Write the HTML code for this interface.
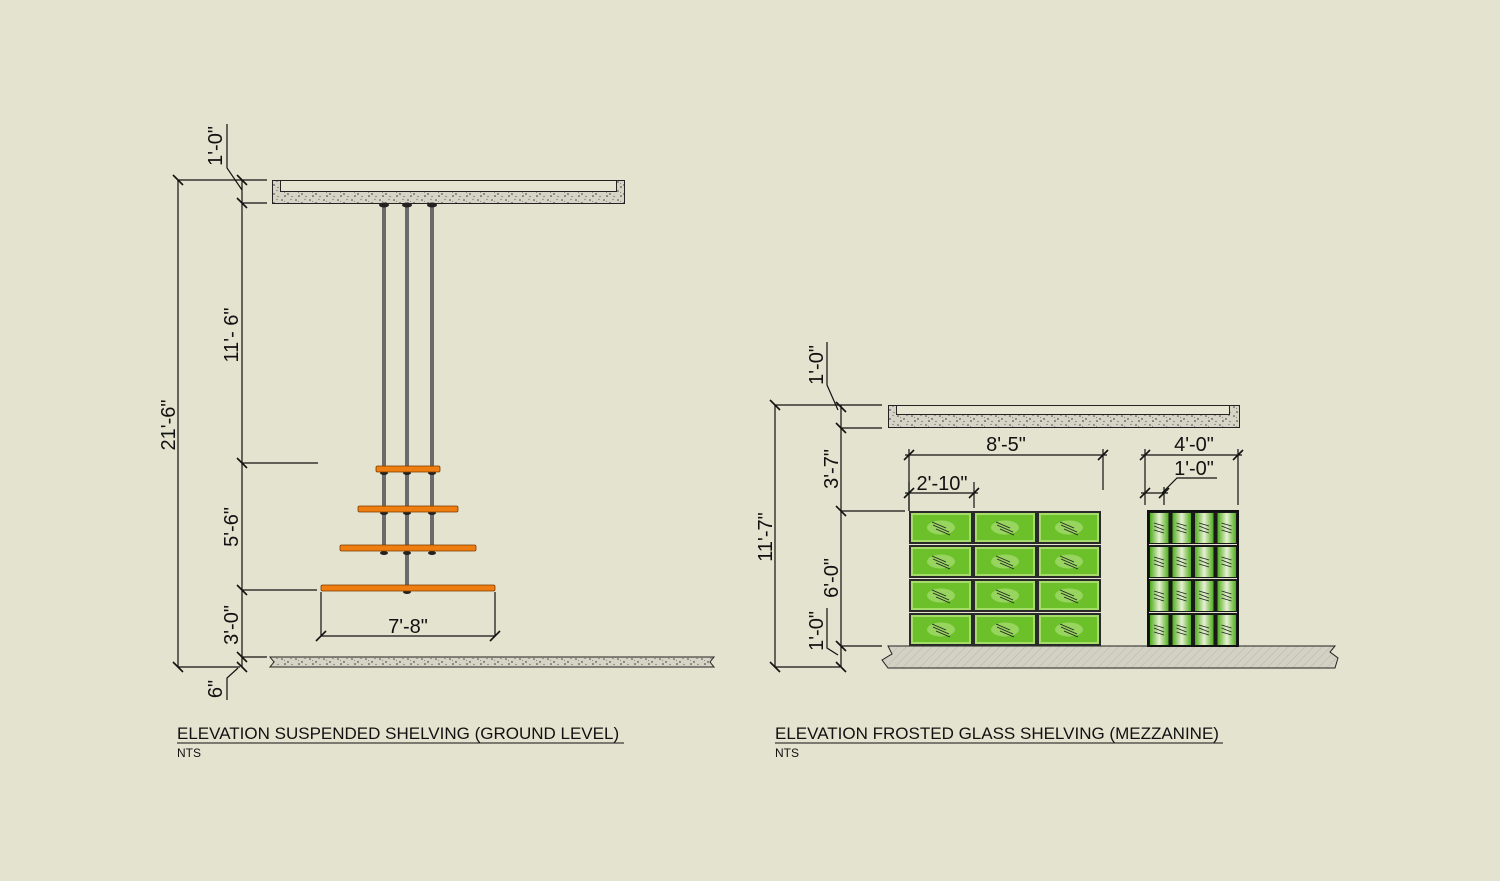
<!DOCTYPE html>
<html><head><meta charset="utf-8"><style>
html,body{margin:0;padding:0;background:#e4e3cf;}
svg{display:block;font-family:"Liberation Sans",sans-serif;}
</style></head><body>
<svg width="1500" height="881" viewBox="0 0 1500 881" xmlns="http://www.w3.org/2000/svg">
<defs>
<pattern id="conc" width="14" height="9" patternUnits="userSpaceOnUse">
<rect width="14" height="9" fill="#d6d4c4"/>
<circle cx="2" cy="2" r="0.8" fill="#444"/><circle cx="8" cy="5" r="0.7" fill="#222"/>
<circle cx="11" cy="1.5" r="0.6" fill="#666"/><circle cx="5" cy="7" r="0.8" fill="#333"/>
<circle cx="12" cy="7.5" r="0.6" fill="#555"/><circle cx="4.5" cy="3.5" r="0.5" fill="#777"/>
</pattern>
<pattern id="hatch" width="6" height="6" patternUnits="userSpaceOnUse" patternTransform="rotate(45)">
<rect width="6" height="6" fill="#d3d1c3"/><line x1="0" y1="0" x2="0" y2="6" stroke="#b9b7aa" stroke-width="1"/>
</pattern>
<linearGradient id="fg" x1="0" x2="1" y1="0" y2="0">
<stop offset="0" stop-color="#4fae1c"/><stop offset="0.5" stop-color="#e8f0d4"/><stop offset="1" stop-color="#4fae1c"/>
</linearGradient>
<g id="cell">
<rect x="0" y="0" width="64" height="33" fill="#2a2a2a"/>
<rect x="2" y="2" width="60" height="29" fill="#a6dc6a"/>
<rect x="4" y="4" width="56" height="25" fill="#6cc12b"/>
<ellipse cx="32" cy="16.5" rx="14" ry="7" fill="#a3d96d" opacity="0.8"/>
<g stroke="#222" stroke-width="0.9"><line x1="23" y1="11" x2="37" y2="17"/><line x1="24" y1="14" x2="40" y2="21"/><line x1="27" y1="18" x2="41" y2="24"/></g>
</g>
<g id="cell2">
<rect x="0" y="0" width="22.5" height="33" fill="#1a1a1a"/>
<rect x="2" y="2" width="18.5" height="30" fill="url(#fg)"/>
<g stroke="#222" stroke-width="0.8"><line x1="6" y1="12" x2="16" y2="15"/><line x1="6" y1="15" x2="16" y2="19"/><line x1="6" y1="19" x2="16" y2="22"/></g>
</g>
</defs>

<g stroke="#111" stroke-width="1.2" fill="none">
<line x1="178" y1="180" x2="178" y2="667"/>
<line x1="178" y1="180" x2="267" y2="180"/>
<line x1="178" y1="667" x2="240" y2="667"/>
<line x1="242" y1="180" x2="242" y2="667"/>
<line x1="242" y1="203" x2="267" y2="203"/>
<line x1="242" y1="463" x2="318" y2="463"/>
<line x1="242" y1="590" x2="317" y2="590"/>
<line x1="242" y1="657" x2="267" y2="657"/>
<g stroke-width="1.6">
<line x1="173" y1="175" x2="183" y2="185"/><line x1="173" y1="662" x2="183" y2="672"/>
<line x1="237" y1="175" x2="247" y2="185"/><line x1="237" y1="198" x2="247" y2="208"/>
<line x1="237" y1="458" x2="247" y2="468"/><line x1="237" y1="585" x2="247" y2="595"/>
<line x1="237" y1="652" x2="247" y2="662"/><line x1="237" y1="662" x2="247" y2="672"/>
</g>
<polyline points="227,124 227,168 242,190"/>
<polyline points="227,700 227,678 238,668"/>
<line x1="321" y1="592" x2="321" y2="636"/><line x1="495" y1="592" x2="495" y2="636"/>
<line x1="321" y1="636" x2="495" y2="636"/>
<g stroke-width="1.6"><line x1="316" y1="641" x2="326" y2="631"/><line x1="490" y1="641" x2="500" y2="631"/></g>
</g>
<rect x="272.5" y="180.5" width="352" height="23" fill="url(#conc)" stroke="#222" stroke-width="1"/>
<rect x="280.5" y="180.5" width="336" height="11" fill="#e6e5d2" stroke="#222" stroke-width="1"/>
<g fill="#6b6b6b"><rect x="382" y="203" width="4" height="350"/><rect x="405" y="203" width="4" height="388"/><rect x="430" y="203" width="4" height="350"/></g>
<g fill="#222"><ellipse cx="384" cy="205" rx="5" ry="2.5"/><ellipse cx="407" cy="205" rx="5" ry="2.5"/><ellipse cx="432" cy="205" rx="5" ry="2.5"/>
<ellipse cx="384" cy="473" rx="4" ry="2"/><ellipse cx="407" cy="473" rx="4" ry="2"/><ellipse cx="432" cy="473" rx="4" ry="2"/>
<ellipse cx="384" cy="513" rx="4" ry="2"/><ellipse cx="407" cy="513" rx="4" ry="2"/><ellipse cx="432" cy="513" rx="4" ry="2"/>
<ellipse cx="384" cy="553" rx="4" ry="2"/><ellipse cx="407" cy="553" rx="4" ry="2"/><ellipse cx="432" cy="553" rx="4" ry="2"/>
<ellipse cx="407" cy="592" rx="4" ry="2"/></g>
<g fill="#f07d10" stroke="#7a3d00" stroke-width="0.8">
<rect x="376" y="466" width="64" height="6" rx="1.5"/>
<rect x="358" y="506" width="100" height="6" rx="1.5"/>
<rect x="340" y="545" width="136" height="6" rx="1.5"/>
<rect x="321" y="585" width="174" height="6" rx="1.5"/>
</g>
<polygon points="270,657 714,657 710,662 714,667 270,667 274,662" fill="url(#conc)" stroke="#222" stroke-width="1"/>

<g font-size="20" fill="#111">
<text transform="translate(222,146) rotate(-90)" text-anchor="middle">1'-0"</text>
<text transform="translate(238,335) rotate(-90)" text-anchor="middle">11'- 6"</text>
<text transform="translate(175,425) rotate(-90)" text-anchor="middle">21'-6"</text>
<text transform="translate(238,527) rotate(-90)" text-anchor="middle">5'-6"</text>
<text transform="translate(238,625) rotate(-90)" text-anchor="middle">3'-0"</text>
<text transform="translate(222,689) rotate(-90)" text-anchor="middle">6"</text>
<text x="408" y="633" text-anchor="middle">7'-8"</text>
</g>
<g fill="#111">
<text x="177" y="739" font-size="17">ELEVATION SUSPENDED SHELVING (GROUND LEVEL)</text>
<line x1="177" y1="743" x2="624" y2="743" stroke="#111" stroke-width="1"/>
<text x="177" y="757" font-size="12">NTS</text>
<text x="775" y="739" font-size="17">ELEVATION FROSTED GLASS SHELVING (MEZZANINE)</text>
<line x1="775" y1="743" x2="1223" y2="743" stroke="#111" stroke-width="1"/>
<text x="775" y="757" font-size="12">NTS</text>
</g>

<g stroke="#111" stroke-width="1.2" fill="none">
<line x1="775" y1="405" x2="775" y2="667"/>
<line x1="775" y1="405" x2="882" y2="405"/>
<line x1="775" y1="667" x2="840" y2="667"/>
<line x1="841" y1="405" x2="841" y2="667"/>
<line x1="841" y1="428" x2="882" y2="428"/>
<line x1="841" y1="511" x2="905" y2="511"/>
<line x1="841" y1="646" x2="882" y2="646"/>
<g stroke-width="1.6">
<line x1="770" y1="400" x2="780" y2="410"/><line x1="770" y1="662" x2="780" y2="672"/>
<line x1="836" y1="402" x2="846" y2="412"/><line x1="836" y1="423" x2="846" y2="433"/>
<line x1="836" y1="506" x2="846" y2="516"/><line x1="836" y1="641" x2="846" y2="651"/>
<line x1="836" y1="662" x2="846" y2="672"/>
</g>
<polyline points="827,342 827,385 838,410"/>
<polyline points="827,608 827,648 838,655"/>
<line x1="909" y1="449" x2="909" y2="511"/><line x1="1103" y1="449" x2="1103" y2="490"/>
<line x1="905" y1="455" x2="1107" y2="455"/>
<line x1="909" y1="482" x2="909" y2="511"/><line x1="974" y1="482" x2="974" y2="508"/>
<line x1="905" y1="493" x2="978" y2="493"/>
<line x1="1145" y1="449" x2="1145" y2="505"/><line x1="1238" y1="449" x2="1238" y2="505"/>
<line x1="1141" y1="455" x2="1242" y2="455"/>
<line x1="1164" y1="487" x2="1164" y2="505"/>
<line x1="1141" y1="493" x2="1168" y2="493"/>
<polyline points="1217,478 1177,478 1162,493"/>
<g stroke-width="1.6">
<line x1="904" y1="460" x2="914" y2="450"/><line x1="1098" y1="460" x2="1108" y2="450"/>
<line x1="904" y1="498" x2="914" y2="488"/><line x1="969" y1="498" x2="979" y2="488"/>
<line x1="1140" y1="460" x2="1150" y2="450"/><line x1="1233" y1="460" x2="1243" y2="450"/>
<line x1="1140" y1="498" x2="1150" y2="488"/><line x1="1159" y1="498" x2="1169" y2="488"/>
</g>
</g>
<rect x="888.5" y="405.5" width="351" height="22" fill="url(#conc)" stroke="#222" stroke-width="1"/>
<rect x="896.5" y="405.5" width="333" height="9" fill="#e6e5d2" stroke="#222" stroke-width="1"/>
<polygon points="888,646 1335,646 1330,652 1338,658 1335,668 888,668 882,660 892,654" fill="url(#hatch)" stroke="#222" stroke-width="1"/>

<g>
<use href="#cell" x="909" y="511"/><use href="#cell" x="973" y="511"/><use href="#cell" x="1037" y="511"/>
<use href="#cell" x="909" y="545"/><use href="#cell" x="973" y="545"/><use href="#cell" x="1037" y="545"/>
<use href="#cell" x="909" y="579"/><use href="#cell" x="973" y="579"/><use href="#cell" x="1037" y="579"/>
<use href="#cell" x="909" y="613"/><use href="#cell" x="973" y="613"/><use href="#cell" x="1037" y="613"/>
</g>
<g>
<use href="#cell2" x="1148" y="511"/><use href="#cell2" x="1170.5" y="511"/><use href="#cell2" x="1193" y="511"/><use href="#cell2" x="1215.5" y="511"/>
<use href="#cell2" x="1148" y="545"/><use href="#cell2" x="1170.5" y="545"/><use href="#cell2" x="1193" y="545"/><use href="#cell2" x="1215.5" y="545"/>
<use href="#cell2" x="1148" y="579"/><use href="#cell2" x="1170.5" y="579"/><use href="#cell2" x="1193" y="579"/><use href="#cell2" x="1215.5" y="579"/>
<use href="#cell2" x="1148" y="613"/><use href="#cell2" x="1170.5" y="613"/><use href="#cell2" x="1193" y="613"/><use href="#cell2" x="1215.5" y="613"/>
<rect x="1148" y="511" width="90" height="135" fill="none" stroke="#111" stroke-width="2"/>
</g>

<g font-size="20" fill="#111">
<text transform="translate(823,365) rotate(-90)" text-anchor="middle">1'-0"</text>
<text transform="translate(772,537) rotate(-90)" text-anchor="middle">11'-7"</text>
<text transform="translate(838,469) rotate(-90)" text-anchor="middle">3'-7"</text>
<text transform="translate(838,578) rotate(-90)" text-anchor="middle">6'-0"</text>
<text transform="translate(823,631) rotate(-90)" text-anchor="middle">1'-0"</text>
<text x="1006" y="451" text-anchor="middle">8'-5"</text>
<text x="942" y="490" text-anchor="middle">2'-10"</text>
<text x="1194" y="451" text-anchor="middle">4'-0"</text>
<text x="1194" y="475" text-anchor="middle">1'-0"</text>
</g>
</svg>
</body></html>
